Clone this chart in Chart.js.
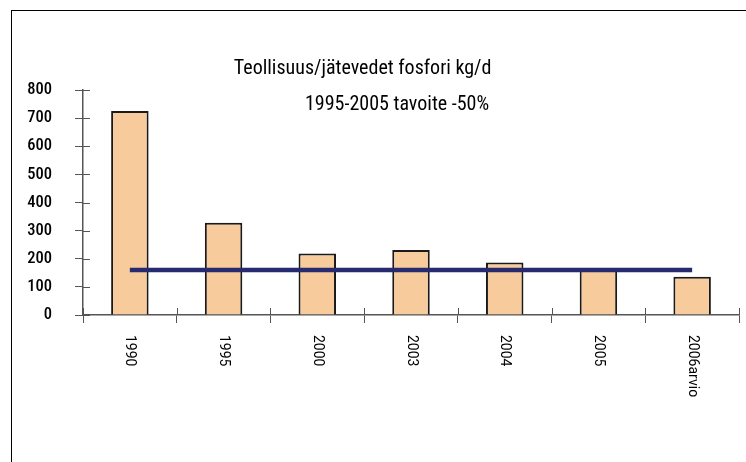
<!DOCTYPE html>
<html><head><meta charset="utf-8">
<script src="https://cdn.jsdelivr.net/npm/chart.js@4/dist/chart.umd.min.js"></script>
<style>
html,body{margin:0;padding:0;background:#fff;overflow:hidden;width:746px;height:462px}
#frame{position:absolute;left:11px;top:10px;width:800px;height:500px;border:1.5px solid #000;box-sizing:border-box}
#c{position:absolute;left:0;top:0}
</style></head><body>
<div id="frame"></div>
<canvas id="c" width="746" height="462"></canvas>
<script>
const categories = ['1990', '1995', '2000', '2003', '2004', '2005', '2006arvio'];
const phosphorus = [725, 328, 219, 231, 187, 167, 136];
const target = [160, 160, 160, 160, 160, 160, 160];
const titleLines = ['Teollisuus/jätevedet fosfori kg/d', '1995-2005 tavoite -50%'];
const yMin = 0, yMax = 800, yStep = 100;

const axisColor = '#555';
const condensed = '"Roboto Condensed", "DejaVu Sans Condensed", sans-serif';

const crossTicks = {
  id: 'crossTicks',
  afterDraw(chart) {
    const {ctx, scales: {x, y}} = chart;
    ctx.save();
    ctx.strokeStyle = axisColor;
    ctx.lineWidth = 1;
    y.ticks.forEach((t, i) => {
      const py = Math.round(y.getPixelForTick(i)) + 0.5;
      ctx.beginPath(); ctx.moveTo(y.right, py); ctx.lineTo(y.right + 7, py); ctx.stroke();
    });
    for (let i = 0; i <= categories.length; i++) {
      const px = Math.round(x.getPixelForValue(i - 0.5)) + 0.5;
      ctx.beginPath(); ctx.moveTo(px, x.top); ctx.lineTo(px, x.top - 7); ctx.stroke();
    }
    ctx.fillStyle = '#000';
    ctx.font = '14px Roboto, sans-serif';
    ctx.textAlign = 'left';
    ctx.textBaseline = 'middle';
    categories.forEach((lab, i) => {
      const px = x.getPixelForValue(i);
      ctx.save();
      ctx.translate(px, x.top + 20);
      ctx.rotate(Math.PI / 2);
      ctx.fillText(lab, 0, 0);
      ctx.restore();
    });
    ctx.restore();
  }
};

new Chart(document.getElementById('c'), {
  data: {
    labels: categories,
    datasets: [
      {
        type: 'line',
        data: target,
        borderColor: '#272A6E',
        borderWidth: 4.5,
        pointRadius: 0,
        fill: false,
        tension: 0,
        order: 0
      },
      {
        type: 'bar',
        data: phosphorus,
        backgroundColor: '#F8CB9C',
        borderColor: '#1a1a1a',
        borderWidth: 2,
        barPercentage: 0.4,
        categoryPercentage: 1,
        order: 1
      }
    ]
  },
  options: {
    responsive: false,
    animation: false,
    layout: {padding: {left: 0, right: 7, top: 0, bottom: 0}},
    plugins: {
      legend: {display: false},
      tooltip: {enabled: false},
      title: {
        display: true,
        text: [titleLines[0] + '   ', '            ' + titleLines[1]],
        color: '#000',
        font: {family: condensed, size: 20, weight: 'normal', lineHeight: 36 / 20},
        padding: {top: 51, bottom: -33}
      }
    },
    scales: {
      x: {
        grid: {display: true, drawOnChartArea: false, drawTicks: true, tickLength: 8, color: axisColor, offset: true},
        border: {display: true, color: axisColor, width: 1.5},
        ticks: {display: false},
        afterFit(s) { s.height = 147; }
      },
      y: {
        min: yMin, max: yMax,
        grid: {display: true, drawOnChartArea: false, drawTicks: true, tickLength: 8, color: axisColor},
        border: {display: true, color: axisColor, width: 1.5},
        ticks: {stepSize: yStep, color: '#000', padding: 23, font: {family: condensed, size: 16.5, weight: '500'}},
        afterFit(s) { s.width = 83; }
      }
    }
  },
  plugins: [crossTicks]
});
</script>
</body></html>
